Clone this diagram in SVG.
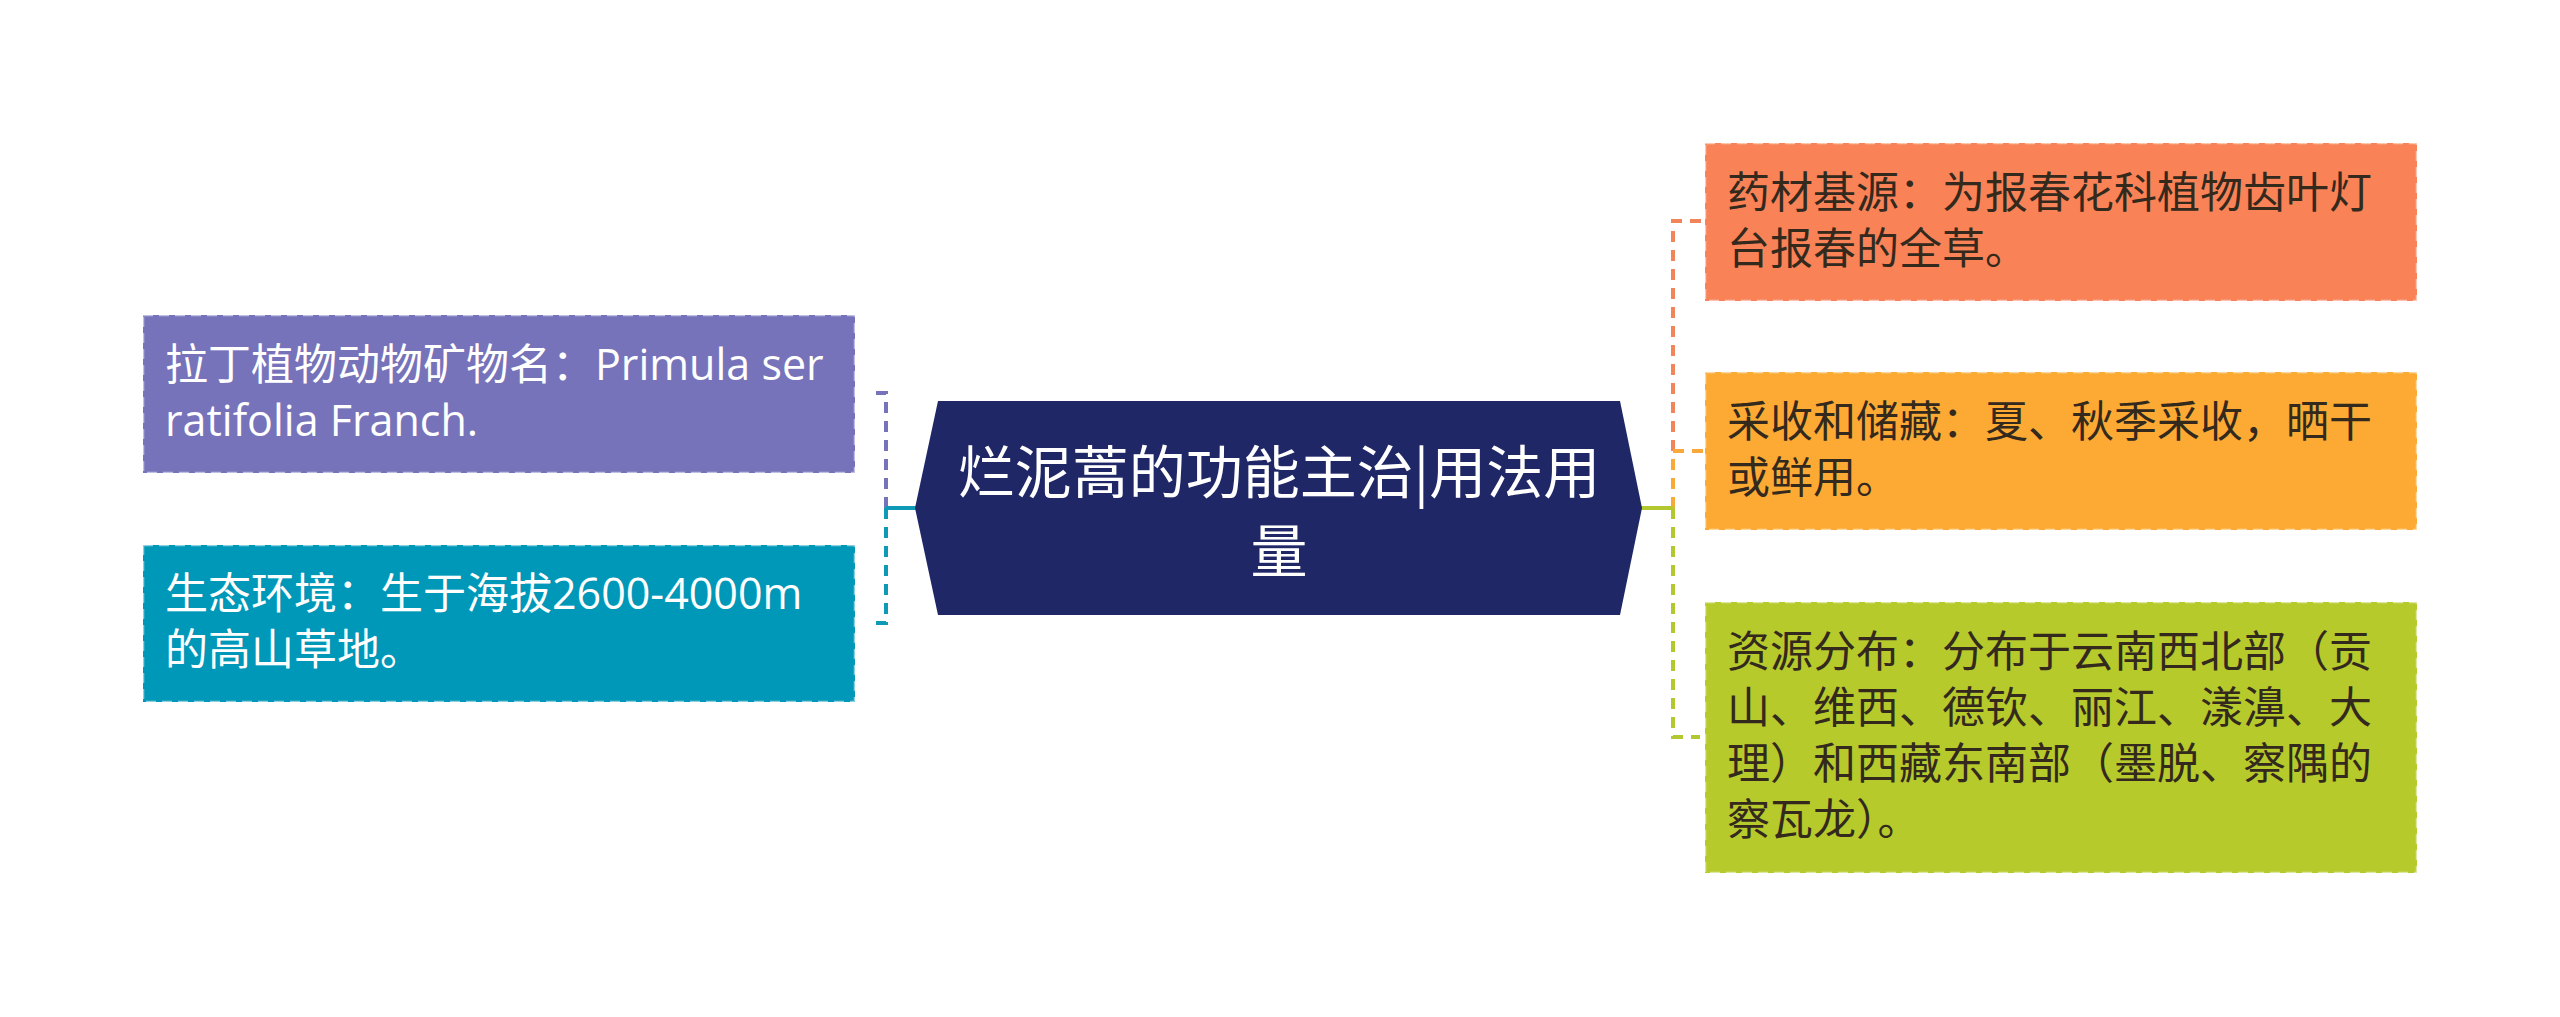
<svg xmlns="http://www.w3.org/2000/svg" width="2560" height="1017" viewBox="0 0 2560 1017">
<style>
.bg{fill:#ffffff}
.box{stroke:#ffffff;stroke-opacity:0.55;stroke-width:2.5;stroke-dasharray:10 6}
.t{font-family:"Open Sans","Noto Sans CJK SC",sans-serif;font-size:43px}
.tw{fill:#ffffff}
.td{fill:#33291d}
.ct{font-family:"Noto Sans CJK SC","Open Sans",sans-serif;font-size:57px;fill:#ffffff;text-anchor:middle}
.c{fill:none;stroke-width:4;stroke-dasharray:11 8}
.s{fill:none;stroke-width:4}
</style>
<rect class="bg" x="0" y="0" width="2560" height="1017"/>
<g id="connectors">
<path class="c" stroke="#7673BA" d="M886 508 V393 H870"/>
<path class="c" stroke="#0E9AB7" d="M886 508 V623 H870"/>
<path class="s" stroke="#0E9AB7" d="M917 508 H886"/>
<path class="c" stroke="#F2845C" d="M1673 508 V221 H1705"/>
<path class="c" stroke="#F9A93A" d="M1673 508 V451 H1703"/>
<path class="c" stroke="#B3C72F" d="M1673 508 V737 H1700"/>
<path class="s" stroke="#B3C72F" d="M1641 508 H1673"/>
</g>
<g id="center">
<polygon points="938,401 1620,401 1642,508 1620,615 938,615 915,508" fill="#1F2766"/>
<text class="ct"><tspan x="1279" y="493">烂泥蒿的功能主治|用法用</tspan><tspan x="1279" y="572">量</tspan></text>
</g>
<g id="n-latin">
<rect class="box" x="143" y="315" width="712" height="158" fill="#7673BA"/>
<text class="t tw"><tspan x="165" y="380">拉丁植物动物矿物名：Primula ser</tspan><tspan x="165" y="436">ratifolia Franch.</tspan></text>
</g>
<g id="n-env">
<rect class="box" x="143" y="545" width="712" height="157" fill="#0098B8"/>
<text class="t tw"><tspan x="165" y="609">生态环境：生于海拔2600-4000m</tspan><tspan x="165" y="665">的高山草地。</tspan></text>
</g>
<g id="n-source">
<rect class="box" x="1705" y="143" width="712" height="158" fill="#F98257"/>
<text class="t td"><tspan x="1727" y="208">药材基源：为报春花科植物齿叶灯</tspan><tspan x="1727" y="264">台报春的全草。</tspan></text>
</g>
<g id="n-harvest">
<rect class="box" x="1705" y="372" width="712" height="158" fill="#FDAA35"/>
<text class="t td"><tspan x="1727" y="437">采收和储藏：夏、秋季采收，晒干</tspan><tspan x="1727" y="493">或鲜用。</tspan></text>
</g>
<g id="n-distribution">
<rect class="box" x="1705" y="602" width="712" height="271" fill="#B6CA2C"/>
<text class="t td"><tspan x="1727" y="667">资源分布：分布于云南西北部（贡</tspan><tspan x="1727" y="723">山、维西、德钦、丽江、漾濞、大</tspan><tspan x="1727" y="779">理）和西藏东南部（墨脱、察隅的</tspan><tspan x="1727" y="835">察瓦龙）。</tspan></text>
</g>
</svg>
